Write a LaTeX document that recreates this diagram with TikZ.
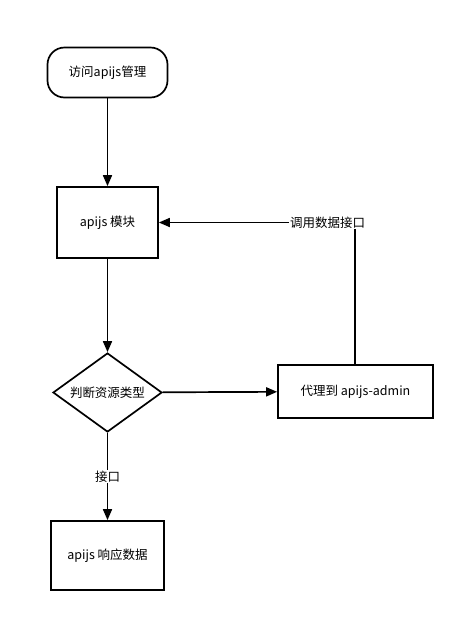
\documentclass[tikz,border=0pt]{standalone}
\usepackage{fontspec}
\setmainfont{Noto Sans CJK SC}
\usetikzlibrary{arrows.meta}
\usetikzlibrary{shapes.geometric}

\begin{document}
\begin{tikzpicture}[x=1pt,y=-1pt]
  \tikzset{box/.style = {shape=rectangle,draw,line width=1.7pt,inner sep=1pt,font=\fontsize{12.5}{14}\selectfont}}
  \tikzset{term/.style = {box,rounded corners=17pt,minimum width=120pt,minimum height=50pt}}
  \tikzset{choice/.style = {shape=diamond,draw,line width=1.7pt,inner sep=0pt,aspect=1.38,minimum width=109pt,minimum height=79pt,font=\fontsize{12.5}{14}\selectfont}}
  \tikzset{edge/.style = {line width=1.7pt,-{Triangle[length=11pt,width=9pt]}}}
  \tikzset{tag/.style = {fill=white,inner sep=1pt,font=\fontsize{12.5}{14}\selectfont}}

  \useasboundingbox (0,0) rectangle (465,622);

	\node[term] (FW) at (107.5,72.5) {访问apijs管理};
	\node[box,minimum width=101pt,minimum height=71pt] (MK) at (107.5,222.5) {apijs 模块};
	
	\node[choice] (PD) at (107.5,392.5) {判断资源类型};
	\node[box,minimum width=155pt,minimum height=53pt] (DL) at (355.5,391.5) {代理到 apijs-admin};
		
	\node[box,minimum width=113pt,minimum height=69pt] (XY) at (107.5,555.5) {apijs 响应数据};
	
       \foreach \from/\to in {FW/MK, MK/PD, PD/DL}
    \draw[edge] (\from) -- (\to);
    \draw[edge] (PD) -- node[tag,pos=0.5]{接口} (XY);
    \draw[edge] (DL.north -| 355,0) |- node[tag,pos=0.57]{调用数据接口} (MK.east);
\end{tikzpicture}
\end{document}
